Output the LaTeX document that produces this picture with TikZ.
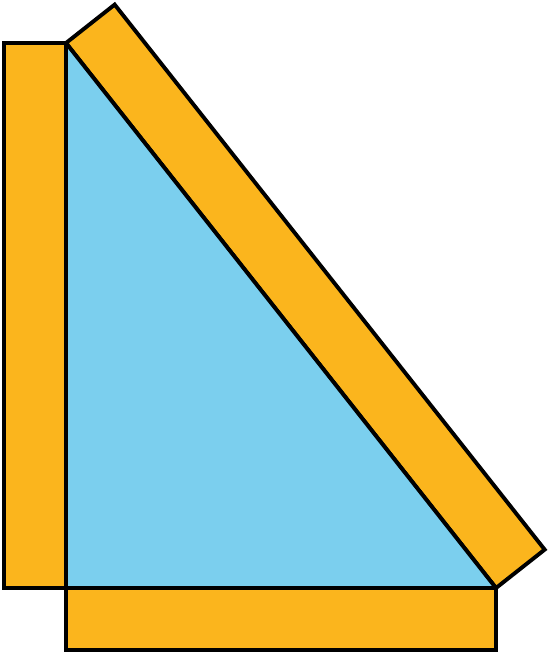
\documentclass[tikz,border=0pt]{standalone}
\usetikzlibrary{calc}
\definecolor{squareorange}{HTML}{FBB51D}
\definecolor{triblue}{HTML}{7BCFEE}

\begin{document}
\begin{tikzpicture}[x=1pt,y=-1pt,line width=3.9pt,
  side/.style={draw=black,fill=squareorange},
  tri/.style={draw=black,fill=triblue,line join=bevel}]
\useasboundingbox (0,0) rectangle (549,655);
\coordinate (A) at (66,43);
\coordinate (B) at (66,588);
\coordinate (C) at (496,588);
\def\w{62pt}
\foreach \p/\q in {A/B,B/C,C/A} {%
  \draw[side] (\p) -- (\q) -- ($(\q)!\w!90:(\p)$) -- ($(\p)!\w!-90:(\q)$) -- cycle;
}
\draw[tri] (A) -- (B) -- (C) -- cycle;
\end{tikzpicture}
\end{document}
